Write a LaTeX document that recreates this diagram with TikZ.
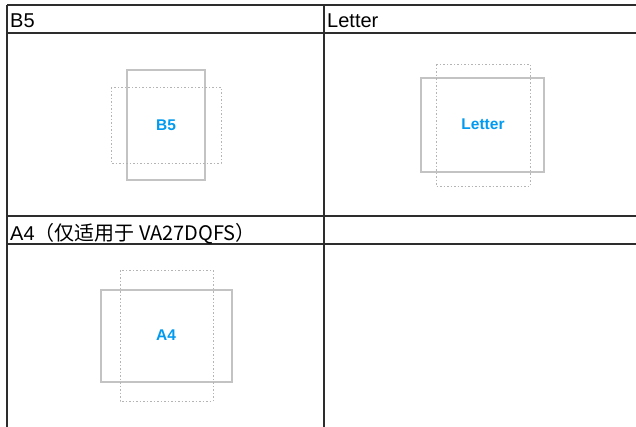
\documentclass[tikz,border=0pt]{standalone}
\usepackage{fontspec}
\setmainfont{Liberation Sans}
\newfontfamily\cjk{Noto Sans CJK SC}
\definecolor{rule}{RGB}{45,45,45}
\definecolor{paper}{RGB}{195,195,195}
\definecolor{fold}{RGB}{180,180,180}
\definecolor{lbl}{RGB}{0,155,240}
\begin{document}
\begin{tikzpicture}[x=1pt,y=-1pt,
  gridline/.style={draw=rule,line width=1.5pt},
  head/.style={anchor=base west,inner sep=0pt,font=\fontsize{20}{20}\selectfont,text=black},
  solidpaper/.style={draw=paper,line width=1.1pt},
  dotpaper/.style={draw=fold,line width=1pt,dash pattern=on 1.5pt off 2pt},
  papername/.style={font=\bfseries\fontsize{15.5}{16}\selectfont,text=lbl,inner sep=0pt}]
\useasboundingbox (0,0) rectangle (636,426);
\fill[white] (0,0) rectangle (636,426);
% table grid
\draw[gridline] (7,5) -- (640,5);
\draw[gridline] (7,33) -- (640,33);
\draw[gridline] (7,216) -- (640,216);
\draw[gridline] (7,244) -- (640,244);
\draw[gridline] (7,5) -- (7,430);
\draw[gridline] (324,5) -- (324,430);
% headers
\node[head] (hB) at (10,27) {B5};
\node[head] (hL) at (327,27) {Letter};
\node[head] (hA) at (10,240) {A4\cjk{（仅适用于} VA27DQFS\cjk{）}};
% B5
\draw[solidpaper] (127,70) rectangle (205,180);
\draw[dotpaper] (111,87) rectangle (221,163);
\node[papername] (lB) at (166,125) {B5};
% Letter
\draw[solidpaper] (421,78) rectangle (544,172);
\draw[dotpaper] (436,64) rectangle (530,186);
\node[papername] (lL) at (483,124) {Letter};
% A4
\draw[solidpaper] (101,290) rectangle (232,382);
\draw[dotpaper] (120,270) rectangle (213,401);
\node[papername] (lA) at (166,335) {A4};
\end{tikzpicture}
\end{document}
